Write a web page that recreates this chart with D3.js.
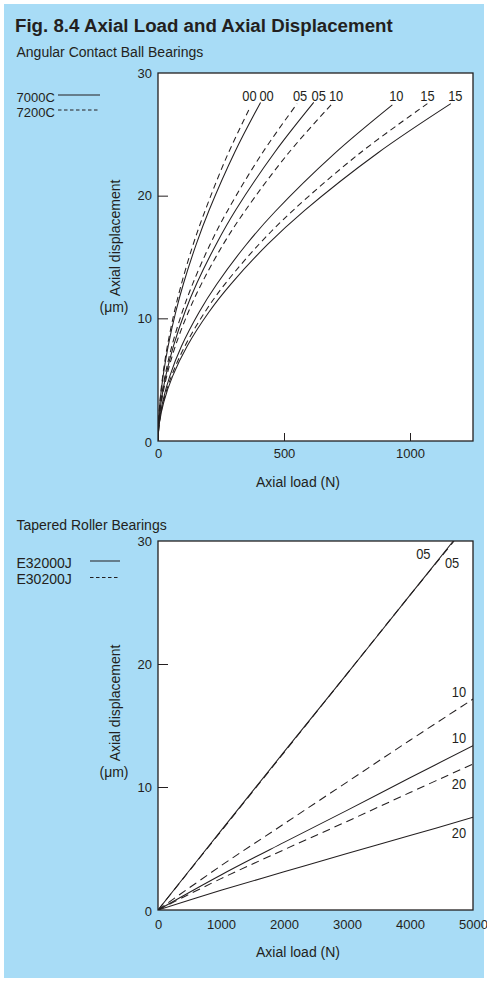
<!DOCTYPE html>
<html><head><meta charset="utf-8">
<script src="https://cdn.jsdelivr.net/npm/d3@7"></script>
<style>
html,body{margin:0;padding:0;background:#fff;}
svg{display:block;}
text{font-family:"Liberation Sans",Arial,Helvetica,sans-serif;fill:#231f20;}
</style></head><body>
<svg id="chart" width="487" height="982"></svg>
<script>
// ---------- DATA ----------
const ballXTicks = [0, 500, 1000];
const yTicks = [0, 10, 20, 30];
const taperXTicks = [0, 1000, 2000, 3000, 4000, 5000];

// Angular contact ball bearings: [axial load N, displacement um]
const ball7200C_00 = [[0,0],[1.8,1.47],[7.3,3.15],[18.2,5.22],[36.3,7.64],[63.5,10.39],[90.8,12.64],[136,15.8],[182,18.51],[272,23.14],[363,27.1]];
const ball7000C_00 = [[0,0],[2,1.5],[8.1,3.21],[20.4,5.31],[40.7,7.78],[71.2,10.58],[101.8,12.88],[152.6,16.09],[203.5,18.85],[305,23.56],[407,27.6]];
const ball7200C_05 = [[0,0],[2.8,1.49],[11,3.2],[27.6,5.29],[55.2,7.75],[96.6,10.54],[138,12.83],[207,16.04],[276,18.78],[414,23.48],[552,27.5]];
const ball7000C_05 = [[0,0],[3.1,1.5],[12.4,3.21],[30.9,5.31],[61.8,7.78],[108,10.58],[154.5,12.88],[232,16.09],[309,18.85],[464,23.56],[618,27.6]];
const ball7200C_10 = [[0,0],[3.5,1.49],[13.8,3.2],[34.6,5.29],[69.1,7.75],[121,10.54],[173,12.83],[259,16.04],[346,18.78],[518,23.48],[691,27.5]];
const ball7000C_10 = [[0,0],[4.7,1.49],[18.6,3.19],[46.5,5.27],[93,7.72],[163,10.5],[233,12.78],[349,15.98],[465,18.71],[698,23.39],[930,27.4]];
const ball7200C_15 = [[0,0],[5.3,1.49],[21.4,3.2],[53.5,5.29],[107,7.75],[187,10.54],[267,12.83],[401,16.04],[535,18.78],[802,23.48],[1069,27.5]];
const ball7000C_15 = [[0,0],[5.8,1.49],[23.2,3.2],[58.1,5.29],[116,7.75],[203,10.54],[291,12.83],[436,16.04],[581,18.78],[872,23.48],[1162,27.5]];

// Tapered roller bearings
const taperE32005J = [[0,0],[1000,6.45],[2000,12.85],[3000,19.2],[4000,25.6],[4688,30]];
const taperE30205J = [[0,0],[1000,6.4],[2000,12.8],[3000,19.2],[4000,25.6],[4700,30]];
const taperE30210J = [[0,0],[1000,3.6],[2000,7.0],[3000,10.4],[4000,13.8],[5000,17.15]];
const taperE32010J = [[0,0],[1000,2.85],[2000,5.5],[3000,8.1],[4000,10.75],[5000,13.36]];
const taperE30220J = [[0,0],[1000,2.55],[2000,4.9],[3000,7.2],[4000,9.55],[5000,11.87]];
const taperE32020J = [[0,0],[1000,1.6],[2000,3.1],[3000,4.6],[4000,6.05],[5000,7.54]];

const ballSeries = [
  {label:"00", dashed:true,  pts:ball7200C_00},
  {label:"00", dashed:false, pts:ball7000C_00},
  {label:"05", dashed:true,  pts:ball7200C_05},
  {label:"05", dashed:false, pts:ball7000C_05},
  {label:"10", dashed:true,  pts:ball7200C_10},
  {label:"10", dashed:false, pts:ball7000C_10},
  {label:"15", dashed:true,  pts:ball7200C_15},
  {label:"15", dashed:false, pts:ball7000C_15}
];
const taperSeries = [
  {label:"05", dashed:false, pts:taperE32005J},
  {label:"05", dashed:true,  pts:taperE30205J},
  {label:"10", dashed:true,  pts:taperE30210J},
  {label:"10", dashed:false, pts:taperE32010J},
  {label:"20", dashed:true,  pts:taperE30220J},
  {label:"20", dashed:false, pts:taperE32020J}
];

// ---------- LAYOUT ----------
const INK = "#231f20";
const svg = d3.select("#chart");
svg.append("rect").attr("x",4).attr("y",4).attr("width",480).attr("height",974).attr("fill","#a8dcf6");

svg.append("text").attr("x",15).attr("y",31.5).attr("font-size","18.7px").attr("font-weight","bold")
  .text("Fig. 8.4 Axial Load and Axial Displacement");

function drawPanel(cfg){
  const x = d3.scaleLinear().domain(cfg.xDomain).range([158,473]);
  const y = d3.scaleLinear().domain([0,30]).range([cfg.bottom, cfg.top]);
  const g = svg.append("g");
  g.append("text").attr("x",16.5).attr("y",cfg.subY).attr("font-size","14px").text(cfg.subtitle);

  g.append("rect").attr("x",158).attr("y",cfg.top).attr("width",315).attr("height",cfg.bottom-cfg.top)
    .attr("fill","#fff");

  // legend
  cfg.legend.forEach((l,i)=>{
    g.append("text").attr("x",16.5).attr("y",l.y).attr("font-size",cfg.legendFont).text(l.name);
    g.append("line").attr("x1",l.x1).attr("x2",l.x2).attr("y1",l.y-6.5).attr("y2",l.y-6.5)
      .attr("stroke",INK).attr("stroke-width",1).attr("stroke-dasharray",l.dashed?"3.5,2.5":null);
  });

  const line = d3.line().x(d=>x(d[0])).y(d=>y(d[1])).curve(d3.curveCatmullRom.alpha(0.5));
  const clip = "clip"+cfg.top;
  svg.append("clipPath").attr("id",clip).append("rect").attr("x",158).attr("y",cfg.top).attr("width",315).attr("height",cfg.bottom-cfg.top);
  g.append("g").attr("clip-path","url(#"+clip+")").selectAll("path").data(cfg.series).join("path")
    .attr("d",d=>line(d.pts)).attr("fill","none").attr("stroke",INK).attr("stroke-width",1.05)
    .attr("stroke-dasharray",d=>d.dashed?cfg.dash:null);

  // curve labels
  g.selectAll("text.lab").data(cfg.series).join("text").attr("class","lab")
    .attr("font-size","15px").attr("text-anchor","middle")
    .attr("transform","scale(0.86,1)")
    .attr("x",(d,i)=>(x(d.pts[d.pts.length-1][0])+cfg.labDx[i])/0.86)
    .attr("y",(d,i)=>cfg.labY ? cfg.labY : y(d.pts[d.pts.length-1][1])+cfg.labDy[i])
    .text(d=>d.label);

  // axes
  const ax = d3.axisBottom(x).tickValues(cfg.xTicks).tickSizeInner(cfg.xTickLen?-cfg.xTickLen:0).tickSizeOuter(0).tickPadding(cfg.xPad)
    .tickFormat(d3.format("d"));
  const axg = g.append("g").attr("transform",`translate(0,${cfg.bottom})`).call(ax);
  const ay = d3.axisLeft(y).tickValues(yTicks).tickSizeInner(-10).tickSizeOuter(0).tickPadding(6);
  const ayg = g.append("g").attr("transform","translate(158,0)").call(ay);
  [axg,ayg].forEach(a=>{
    a.select(".domain").remove();
    a.selectAll("text").attr("font-size","13px").attr("fill",INK);
    a.selectAll("line").attr("stroke",INK).attr("stroke-width",1);
    a.attr("font-family",null);
  });
  ayg.selectAll(".tick").filter(d=>d===0||d===30).select("line").remove();
  axg.selectAll(".tick").filter(d=>d===0||d===cfg.xDomain[1]).select("line").remove();
  ayg.selectAll(".tick").filter(d=>d===0).select("text").attr("dy","0.45em");

  g.append("rect").attr("x",158).attr("y",cfg.top).attr("width",315).attr("height",cfg.bottom-cfg.top)
    .attr("fill","none").attr("stroke",INK).attr("stroke-width",1.3);

  // axis titles
  g.append("text").attr("x",298).attr("y",cfg.bottom+cfg.xTitleDy).attr("font-size","14px").attr("text-anchor","middle").text("Axial load (N)");
  const yc = cfg.yTitleCy;
  g.append("text").attr("transform",`translate(120,${yc}) rotate(-90)`).attr("font-size","14px").attr("text-anchor","middle").text("Axial displacement");
  g.append("text").attr("x",114).attr("y",yc+74).attr("font-size","14px").attr("text-anchor","middle").text("(μm)");
}

drawPanel({
  subtitle:"Angular Contact Ball Bearings", subY:57,
  top:73, bottom:441, xDomain:[0,1250], xTicks:ballXTicks, xTickLen:8, xPad:7.4,
  series:ballSeries, dash:"6,4",
  labY:101, labDx:[0,6,3,5,4,4,0,4.5],
  legendFont:"13px",
  legend:[{name:"7000C",y:101.5,x1:58,x2:100,dashed:false},{name:"7200C",y:116.5,x1:58,x2:100,dashed:true}],
  xTitleDy:46, yTitleCy:238
});
drawPanel({
  subtitle:"Tapered Roller Bearings", subY:529.5,
  top:541, bottom:910, xDomain:[0,5000], xTicks:taperXTicks, xTickLen:0, xPad:9.4,
  series:taperSeries, dash:"8,5",
  labY:null, labDx:[-30,-2,-14,-14,-14,-14], labDy:[18,27,-2,-3,25.5,21],
  legendFont:"14px",
  legend:[{name:"E32000J",y:567.5,x1:90,x2:120,dashed:false},{name:"E30200J",y:584,x1:90,x2:120,dashed:true}],
  xTitleDy:47, yTitleCy:703
});
</script>
</body></html>
